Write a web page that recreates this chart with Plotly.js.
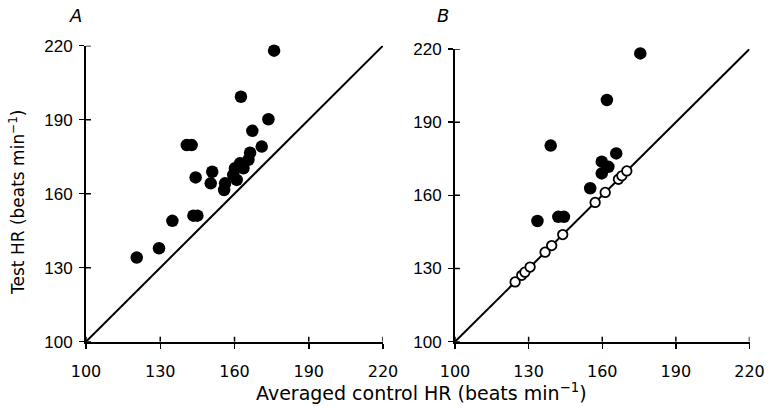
<!DOCTYPE html>
<html>
<head>
<meta charset="utf-8">
<script src="https://cdn.plot.ly/plotly-3.0.1.min.js"></script>
<style>html,body{margin:0;padding:0;background:#fff}#chart{width:770px;height:408px}</style>
</head>
<body>
<div id="chart"></div>
<script>
// Panel A: filled circles (averaged control HR, test HR)
const aControl = [176.0, 162.6, 173.7, 167.2, 140.7, 142.7, 171.0, 166.3, 165.6, 162.2, 160.2, 163.6, 159.5, 160.9, 156.2, 155.8, 144.3, 151.0, 150.4, 143.4, 145.0, 134.9, 129.5, 120.5];
const aTest    = [218.0, 199.3, 190.2, 185.5, 179.7, 179.7, 179.1, 176.6, 173.7, 172.3, 170.3, 170.3, 167.6, 165.6, 164.2, 161.5, 166.6, 168.9, 164.2, 151.1, 151.1, 149.0, 137.9, 134.1];
// Panel B: filled circles
const bControlFilled = [175.5, 161.9, 139.0, 165.7, 159.8, 162.5, 159.8, 155.1, 142.1, 144.4, 133.6];
const bTestFilled    = [218.2, 199.1, 180.4, 177.2, 173.8, 171.7, 169.0, 162.9, 151.2, 151.2, 149.5];
// Panel B: open circles (on the line of identity)
const bControlOpen = [124.5, 127.2, 128.5, 130.6, 136.7, 139.4, 143.9, 157.1, 161.2, 166.6, 168.0, 170.0];
const bTestOpen    = [124.5, 127.2, 128.5, 130.6, 136.7, 139.4, 143.9, 157.1, 161.2, 166.6, 168.0, 170.0];
// Line of identity and ticks
const identity = [100, 220];
const tickVals = [100, 130, 160, 190, 220];
const tickText = ['100', '130', '160', '190', '220'];

const W = 770, H = 408;
const yTickFont = {family: 'Liberation Sans, Arial, sans-serif', size: 17, color: '#000'};
const xTickFont = {family: 'DejaVu Sans, sans-serif', size: 16, color: '#000'};
const titleFamily = 'DejaVu Sans, sans-serif';

const traces = [
  {x: identity, y: identity, xaxis: 'x', yaxis: 'y', mode: 'lines', line: {color: '#000', width: 2}, hoverinfo: 'skip', cliponaxis: false},
  {x: aControl, y: aTest, xaxis: 'x', yaxis: 'y', mode: 'markers', marker: {color: '#000', size: 12.5}, cliponaxis: false},
  {x: identity, y: identity, xaxis: 'x2', yaxis: 'y2', mode: 'lines', line: {color: '#000', width: 2}, hoverinfo: 'skip', cliponaxis: false},
  {x: bControlFilled, y: bTestFilled, xaxis: 'x2', yaxis: 'y2', mode: 'markers', marker: {color: '#000', size: 12.5}, cliponaxis: false},
  {x: bControlOpen, y: bTestOpen, xaxis: 'x2', yaxis: 'y2', mode: 'markers', marker: {color: '#fff', size: 9.5, line: {color: '#000', width: 1.8}}, cliponaxis: false}
];

function axis(domain, anchor, isX) {
  return {
    domain: domain, anchor: anchor, range: [100, 220], fixedrange: true,
    tickvals: tickVals, ticktext: tickText, ticks: 'outside', ticklen: 5, tickwidth: 1.5, tickcolor: '#000',
    showline: true, linewidth: 2, linecolor: '#000', showgrid: false, zeroline: false,
    tickfont: isX ? xTickFont : yTickFont, automargin: false,
    ticklabelstandoff: isX ? 9 : 3
  };
}

const xA = [86 / W, 383 / W], xB = [455 / W, 749.5 / W];
const yA = [1 - 341.7 / H, 1 - 45.7 / H], yB = [1 - 341.7 / H, 1 - 49 / H];

// inner half of the crossing ticks (about 5 px = 2 axis units)
const inner = 2;
const shapes = [];
[['x', 'y'], ['x2', 'y2']].forEach(([xr, yr]) => {
  tickVals.forEach(v => {
    shapes.push({type: 'line', xref: xr, yref: yr, x0: v, x1: v, y0: 100, y1: 100 + inner, line: {color: '#000', width: 1.5}});
    shapes.push({type: 'line', xref: xr, yref: yr, y0: v, y1: v, x0: 100, x1: 100 + inner, line: {color: '#000', width: 1.5}});
  });
});

function label(text, x, y, size, angle) {
  return {text: text, xref: 'paper', yref: 'paper', x: x / W, y: 1 - y / H, xanchor: 'center', yanchor: 'middle',
          textangle: angle || 0, showarrow: false, font: {family: titleFamily, size: size, color: '#000'}};
}

const layout = {
  width: W, height: H, margin: {l: 0, r: 0, t: 0, b: 0},
  paper_bgcolor: '#fff', plot_bgcolor: 'rgba(0,0,0,0)', showlegend: false,
  xaxis: axis(xA, 'y', true),
  yaxis: axis(yA, 'x', false),
  xaxis2: axis(xB, 'y2', true),
  yaxis2: axis(yB, 'x2', false),
  shapes: shapes,
  annotations: [
    label('<i>A</i>', 75, 16, 18),
    label('<i>B</i>', 443, 16, 18),
    label('Test HR (beats min<sup>−1</sup>)', 17, 203, 17, -90),
    label('Averaged control HR (beats min<sup>−1</sup>)', 422, 392, 19)
  ]
};

Plotly.newPlot('chart', traces, layout, {displayModeBar: false, staticPlot: true});
</script>
</body>
</html>
